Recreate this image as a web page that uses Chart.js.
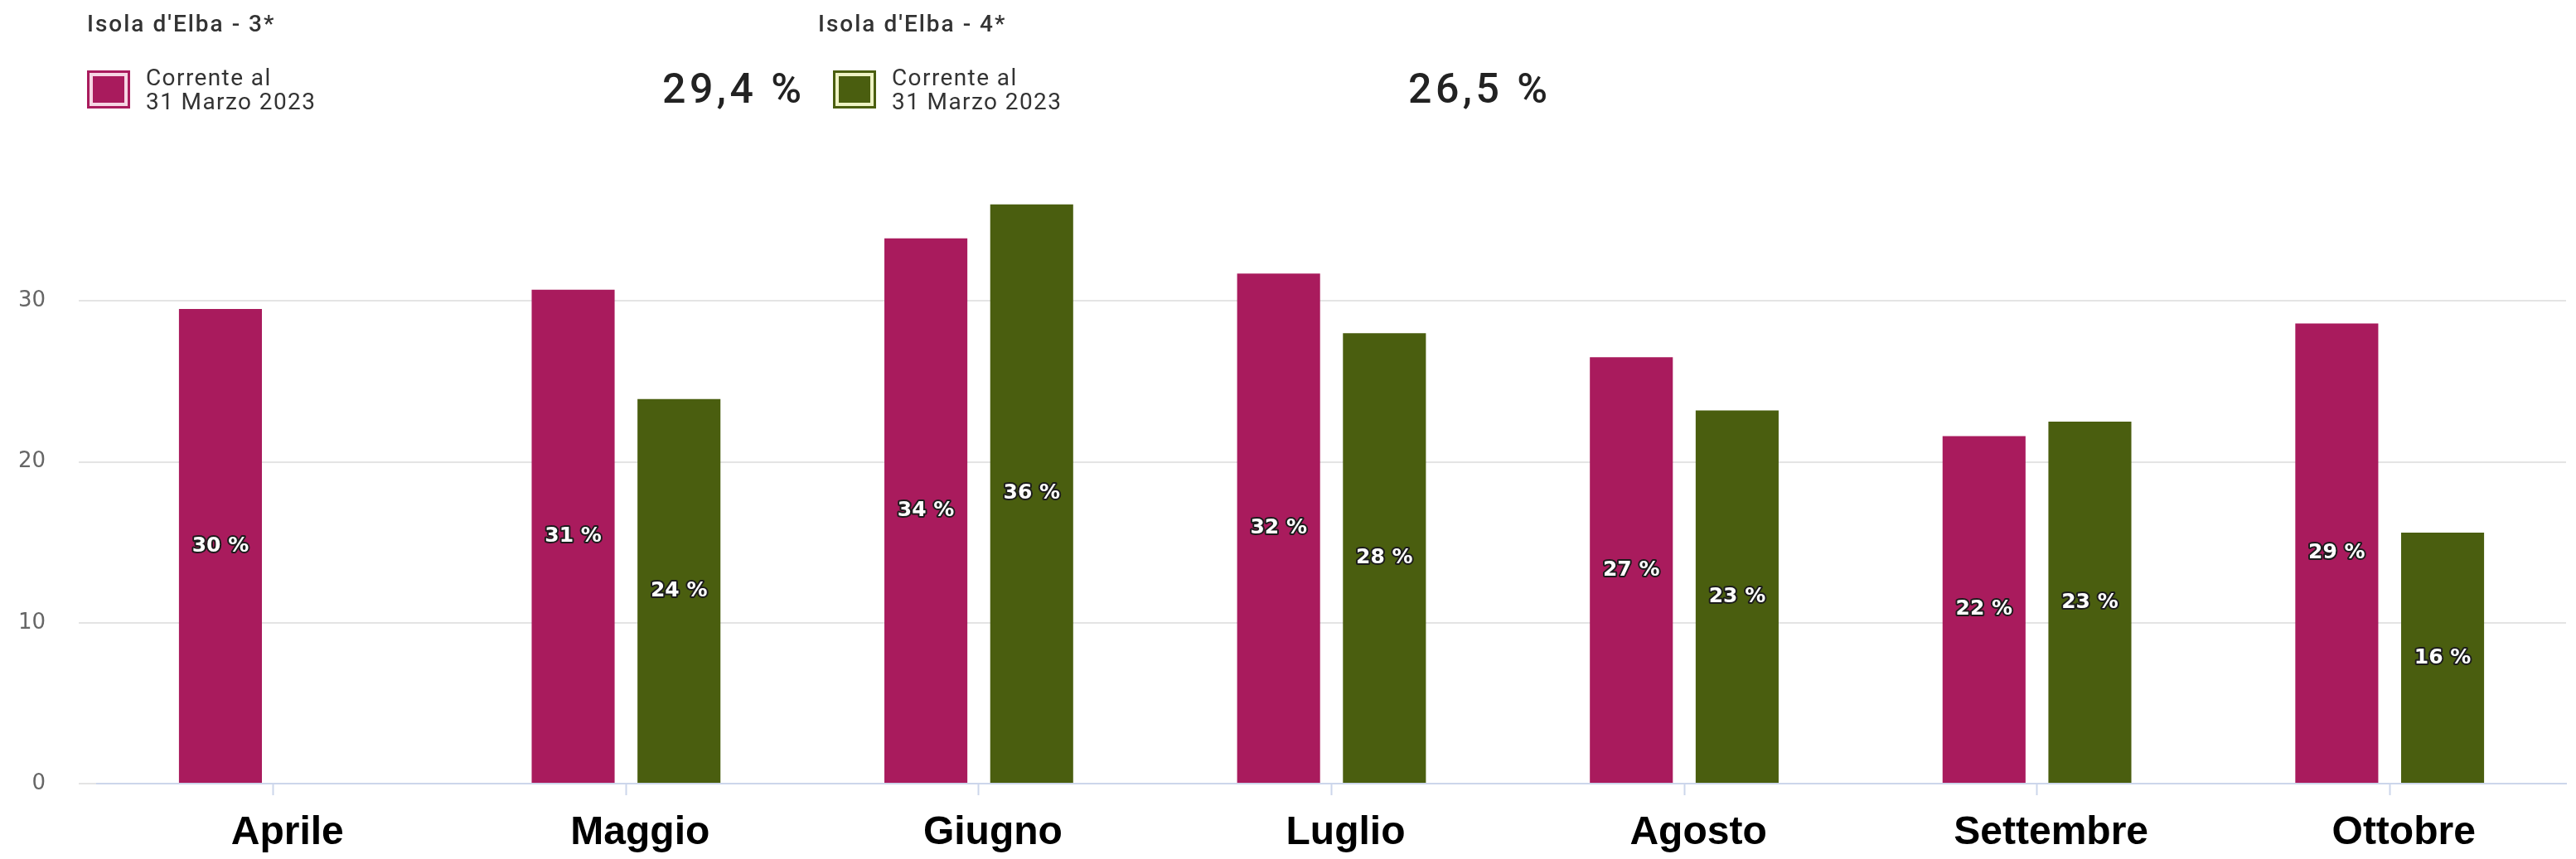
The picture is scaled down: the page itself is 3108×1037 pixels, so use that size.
<!DOCTYPE html>
<html>
<head>
<meta charset="utf-8">
<script src="https://cdn.jsdelivr.net/npm/chart.js@4.4.0/dist/chart.umd.min.js"></script>
<style>
  html, body { margin: 0; padding: 0; background: #fff; }
  #wrap { position: relative; width: 3108px; height: 1037px; overflow: hidden; font-family: Roboto, "Liberation Sans", sans-serif; }
  #grafico { position: absolute; left: 0; top: 0; }
  .titolo { position: absolute; top: 12px; font-size: 28px; font-weight: 500; color: #333; letter-spacing: 2px; }
  .quadrato { position: absolute; top: 85px; width: 46px; height: 40px; border: 3px solid; }
  .legenda { position: absolute; top: 79px; font-size: 28px; line-height: 29px; color: #333; letter-spacing: 1.4px; }
  .totale { position: absolute; top: 78px; font-size: 50px; font-weight: 500; color: #222; letter-spacing: 4.5px; }
</style>
</head>
<body>
<div id="wrap">
  <canvas id="grafico" width="3108" height="1037"></canvas>
</div>
<script>
// categorie e valori
const mesi = ['Aprile', 'Maggio', 'Giugno', 'Luglio', 'Agosto', 'Settembre', 'Ottobre'];
const nomiSerie = ["Isola d'Elba - 3*", "Isola d'Elba - 4*"];
const testoLegenda = ['Corrente al', '31 Marzo 2023'];
const totaliSerie = ['29,4 %', '26,5 %'];
const valoriTre = [29.5, 30.7, 33.9, 31.7, 26.5, 21.6, 28.6];
const valoriQuattro = [null, 23.9, 36.0, 28.0, 23.2, 22.5, 15.6];
const tickY = [0, 10, 20, 30];

const colori = ['#a91b5d', '#4a5e0f'];
const coloriAnello = ['#f6d6e4', '#eef3c4'];

// intestazione (titoli, legenda, totali)
const wrap = document.getElementById('wrap');
const xBlocchi = [105, 1005];
nomiSerie.forEach((nome, i) => {
  const x0 = xBlocchi[i];
  const t = document.createElement('div');
  t.className = 'titolo';
  t.style.left = (x0 - (i ? 18 : 0)) + 'px';
  t.textContent = nome;
  wrap.appendChild(t);

  const q = document.createElement('div');
  q.className = 'quadrato';
  q.style.left = x0 + 'px';
  q.style.borderColor = colori[i];
  q.style.background = colori[i];
  q.style.boxShadow = 'inset 0 0 0 4px ' + coloriAnello[i];
  wrap.appendChild(q);

  const l = document.createElement('div');
  l.className = 'legenda';
  l.style.left = (x0 + 71) + 'px';
  l.innerHTML = testoLegenda.join('<br>');
  wrap.appendChild(l);

  const v = document.createElement('div');
  v.className = 'totale';
  v.style.left = (x0 + 694) + 'px';
  v.textContent = totaliSerie[i];
  wrap.appendChild(v);
});

// etichette dentro le barre
const etichetteBarre = {
  id: 'etichetteBarre',
  afterDatasetsDraw(chart) {
    const ctx = chart.ctx;
    ctx.save();
    ctx.font = 'bold 25px "DejaVu Sans"';
    ctx.textAlign = 'center';
    ctx.textBaseline = 'middle';
    ctx.lineJoin = 'round';
    chart.data.datasets.forEach((ds, i) => {
      chart.getDatasetMeta(i).data.forEach((bar, j) => {
        const v = ds.data[j];
        if (v == null) return;
        const testo = Math.round(v) + ' %';
        const y = (bar.y + bar.base) / 2;
        ctx.lineWidth = 4;
        ctx.strokeStyle = '#1c1c1c';
        ctx.strokeText(testo, bar.x, y);
        ctx.fillStyle = '#ffffff';
        ctx.fillText(testo, bar.x, y);
      });
    });
    ctx.restore();
  }
};

const ctx = document.getElementById('grafico').getContext('2d');
new Chart(ctx, {
  type: 'bar',
  data: {
    labels: mesi,
    datasets: [
      { label: nomiSerie[0], data: valoriTre, backgroundColor: colori[0] },
      { label: nomiSerie[1], data: valoriQuattro, backgroundColor: colori[1] }
    ]
  },
  options: {
    responsive: false,
    animation: false,
    categoryPercentage: 0.6,
    barPercentage: 0.784,
    layout: { padding: { top: 208, right: 12, left: 0, bottom: 0 } },
    plugins: {
      legend: { display: false },
      tooltip: { enabled: false }
    },
    scales: {
      x: {
        offset: true,
        grid: { display: true, drawOnChartArea: false, offset: false, tickLength: 14, tickColor: '#ccd6eb', tickWidth: 2 },
        border: { color: '#ccd6eb', width: 2 },
        ticks: {
          color: '#000',
          font: { family: 'Liberation Sans', size: 48, weight: 'bold' },
          padding: 17,
          labelOffset: 17,
          maxRotation: 0,
          autoSkip: false
        },
        afterFit: s => { s.height = 91; }
      },
      y: {
        min: 0,
        max: 38,
        afterBuildTicks: s => { s.ticks = tickY.map(v => ({ value: v })); },
        afterFit: s => { s.width = 117; },
        grid: { color: '#e4e4e4', lineWidth: 2, tickLength: 22, tickColor: '#e4e4e4' },
        border: { display: false },
        ticks: {
          padding: 40,
          color: '#666',
          font: { family: 'DejaVu Sans', size: 26 }
        }
      }
    }
  },
  plugins: [etichetteBarre]
});
</script>
</body>
</html>
